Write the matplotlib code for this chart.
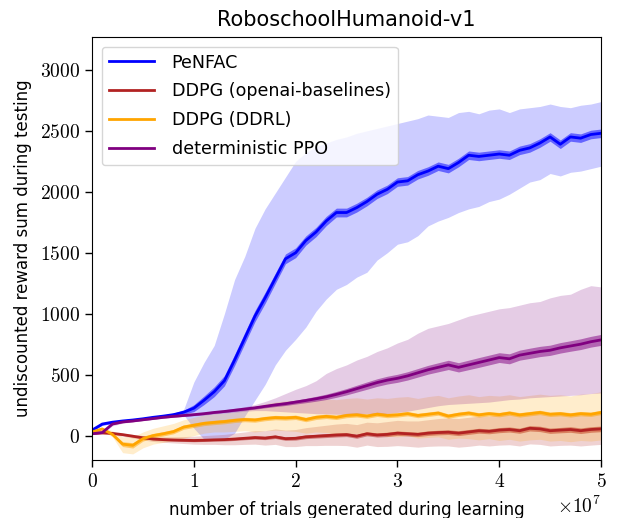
import numpy as np
import matplotlib
matplotlib.use("Agg")
import matplotlib.pyplot as plt
from matplotlib.ticker import FuncFormatter

plt.rcParams['mathtext.fontset'] = 'cm'
plt.rcParams['font.family'] = ['DejaVu Sans']

# x positions in units of 1e7 trials
x_steps = [0.0, 0.1, 0.2, 0.3, 0.4, 0.5, 0.6, 0.7, 0.8, 0.9,
           1.0, 1.1, 1.2, 1.3, 1.4, 1.5, 1.6, 1.7, 1.8, 1.9,
           2.0, 2.1, 2.2, 2.3, 2.4, 2.5, 2.6, 2.7, 2.8, 2.9,
           3.0, 3.1, 3.2, 3.3, 3.4, 3.5, 3.6, 3.7, 3.8, 3.9,
           4.0, 4.1, 4.2, 4.3, 4.4, 4.5, 4.6, 4.7, 4.8, 4.9, 5.0]

series_names = ["PeNFAC", "DDPG (openai-baselines)", "DDPG (DDRL)", "deterministic PPO"]
series_colors = ["blue", "firebrick", "orange", "purple"]

# PeNFAC
penfac_mean = [45, 95, 110, 120, 128, 138, 150, 160, 172, 192,
               225, 290, 360, 450, 620, 800, 980, 1130, 1290, 1450,
               1500, 1600, 1670, 1760, 1830, 1830, 1870, 1920, 1980, 2020,
               2080, 2090, 2140, 2170, 2210, 2190, 2240, 2300, 2290, 2300,
               2310, 2300, 2340, 2360, 2400, 2450, 2390, 2450, 2440, 2470, 2480]
penfac_low = [35, 85, 100, 110, 120, 130, 140, 150, 160, 170,
              60, -30, -35, -30, 20, 160, 290, 420, 580, 700,
              790, 890, 1020, 1120, 1200, 1240, 1300, 1340, 1440, 1500,
              1570, 1590, 1640, 1720, 1760, 1790, 1830, 1860, 1880, 1920,
              1940, 1980, 2030, 2080, 2100, 2150, 2130, 2160, 2170, 2190, 2210]
penfac_high = [55, 105, 120, 130, 138, 148, 160, 170, 185, 215,
               440, 600, 740, 1000, 1280, 1470, 1700, 1860, 1990, 2120,
               2250, 2320, 2370, 2400, 2430, 2450, 2480, 2500, 2520, 2540,
               2560, 2580, 2600, 2630, 2620, 2610, 2650, 2660, 2640, 2670,
               2680, 2650, 2680, 2690, 2700, 2720, 2700, 2690, 2710, 2720, 2740]
penfac_err = [8, 10, 10, 10, 10, 10, 10, 10, 12, 16,
              28, 35, 40, 42, 45, 45, 45, 45, 42, 40,
              40, 38, 38, 38, 36, 36, 36, 35, 35, 35,
              35, 35, 35, 35, 35, 35, 35, 35, 35, 35,
              35, 35, 35, 35, 35, 35, 35, 35, 35, 35, 35]

# DDPG (openai-baselines)
ddpg_base_mean = [20, 22, 18, 8, -5, -18, -28, -33, -36, -38,
                  -40, -38, -35, -33, -28, -22, -16, -20, -10, -25,
                  -22, -10, -5, 0, 5, 8, -5, 15, 5, 10,
                  20, 15, 10, 20, 25, 28, 20, 30, 40, 35,
                  45, 50, 40, 60, 55, 40, 45, 50, 40, 50, 55]
ddpg_base_low = [12, 14, 10, -5, -20, -35, -48, -55, -60, -65,
                 -70, -72, -72, -75, -75, -72, -70, -78, -72, -90,
                 -90, -82, -82, -80, -80, -82, -95, -78, -90, -88,
                 -82, -88, -95, -88, -85, -85, -95, -88, -78, -85,
                 -78, -75, -85, -68, -72, -85, -80, -78, -85, -78, -72]
ddpg_base_high = [28, 30, 28, 20, 10, 0, -8, -10, -10, -8,
                  -5, 0, 5, 10, 20, 30, 40, 40, 55, 45,
                  50, 65, 75, 85, 95, 100, 90, 110, 105, 115,
                  125, 120, 120, 130, 140, 145, 140, 150, 160, 160,
                  170, 175, 165, 185, 180, 170, 175, 180, 170, 180, 185]
ddpg_base_err = [5, 5, 5, 6, 6, 7, 8, 8, 9, 10,
                 10, 10, 10, 11, 12, 12, 13, 13, 14, 14,
                 15, 15, 15, 16, 16, 16, 17, 17, 17, 18,
                 18, 18, 18, 19, 19, 19, 20, 20, 20, 20,
                 21, 21, 21, 22, 22, 22, 22, 23, 23, 23, 23]

# DDPG (DDRL)
ddpg_ddrl_mean = [30, 55, 10, -70, -80, -25, 0, 15, 33, 70,
                  85, 100, 108, 115, 125, 132, 128, 140, 148, 145,
                  150, 132, 150, 158, 150, 165, 170, 160, 175, 165,
                  170, 180, 165, 175, 185, 160, 175, 185, 170, 180,
                  172, 185, 170, 180, 190, 175, 180, 170, 180, 175, 190]
ddpg_ddrl_low = [15, 40, -10, -140, -150, -100, -70, -55, -40, -20,
                 0, 20, 30, 30, 35, 40, 30, 40, 45, 40,
                 35, 20, 30, 25, 10, 20, 15, 0, 10, -5,
                 -10, 0, -20, -15, -10, -30, -20, -25, -35, -25,
                 -40, -30, -45, -35, -30, -45, -40, -50, -40, -45, -35]
ddpg_ddrl_high = [40, 65, 40, -10, -10, 30, 60, 80, 100, 130,
                  150, 170, 180, 185, 195, 210, 240, 260, 275, 285,
                  290, 280, 290, 300, 295, 305, 310, 300, 310, 305,
                  315, 320, 305, 320, 330, 310, 325, 335, 320, 330,
                  325, 335, 320, 330, 340, 330, 335, 325, 340, 345, 360]
ddpg_ddrl_err = [6, 8, 12, 20, 22, 20, 18, 18, 18, 18,
                 18, 18, 18, 18, 18, 18, 18, 18, 18, 18,
                 18, 18, 18, 18, 18, 18, 18, 18, 18, 18,
                 18, 18, 18, 18, 18, 18, 18, 18, 18, 18,
                 18, 18, 18, 18, 18, 18, 18, 18, 18, 18, 18]

# deterministic PPO
ppo_mean = [15, 25, 95, 112, 120, 130, 140, 150, 158, 165,
            172, 180, 190, 198, 208, 218, 228, 240, 252, 262,
            275, 288, 302, 318, 338, 360, 385, 410, 435, 455,
            470, 490, 515, 540, 560, 580, 560, 580, 600, 620,
            640, 630, 660, 675, 690, 700, 720, 735, 750, 770, 785]
ppo_low = [10, 15, 80, 102, 112, 122, 132, 142, 150, 156,
           162, 168, 178, 185, 192, 200, 205, 205, 200, 195,
           190, 185, 180, 178, 175, 175, 178, 180, 180, 182,
           190, 200, 215, 230, 245, 255, 260, 265, 270, 275,
           285, 295, 300, 310, 315, 320, 325, 330, 335, 345, 350]
ppo_high = [20, 30, 100, 118, 128, 138, 148, 158, 166, 174,
            182, 192, 202, 212, 224, 236, 255, 280, 310, 345,
            380, 410, 450, 510, 550, 580, 620, 650, 690, 720,
            760, 790, 840, 880, 900, 920, 950, 980, 1000, 1020,
            1040, 1050, 1070, 1090, 1100, 1130, 1150, 1160, 1200, 1230, 1220]
ppo_err = [4, 5, 6, 6, 6, 6, 6, 6, 7, 7,
           7, 8, 8, 8, 9, 10, 11, 12, 14, 15,
           16, 18, 20, 22, 24, 26, 28, 30, 31, 32,
           33, 34, 35, 36, 37, 38, 38, 39, 40, 40,
           40, 41, 41, 42, 42, 42, 43, 43, 44, 44, 45]

x_tick_values = [0, 1, 2, 3, 4, 5]
y_tick_values = [0, 500, 1000, 1500, 2000, 2500, 3000]

x = np.array(x_steps) * 1e7
series = [
    (penfac_mean, penfac_low, penfac_high, penfac_err),
    (ddpg_base_mean, ddpg_base_low, ddpg_base_high, ddpg_base_err),
    (ddpg_ddrl_mean, ddpg_ddrl_low, ddpg_ddrl_high, ddpg_ddrl_err),
    (ppo_mean, ppo_low, ppo_high, ppo_err),
]

fig = plt.figure(figsize=(6.18, 5.18), dpi=100)
ax = fig.add_axes([0.149, 0.112, 0.8235, 0.8166])

for (m, lo, hi, e), name, c in zip(series, series_names, series_colors):
    m = np.array(m, float)
    e = np.array(e, float)
    ax.fill_between(x, lo, hi, color=c, alpha=0.2, linewidth=0)
    ax.fill_between(x, m - e, m + e, color=c, alpha=0.5, linewidth=0)
    ax.plot(x, m, color=c, linewidth=2, label=name)

ax.set_xlim(0, 5e7)
ax.set_ylim(-200, 3270)
ax.set_xticks([v * 1e7 for v in x_tick_values])
ax.set_yticks(y_tick_values)
ax.xaxis.set_major_formatter(FuncFormatter(lambda v, p: r'$%d$' % round(v / 1e7)))
ax.yaxis.set_major_formatter(FuncFormatter(lambda v, p: r'$%d$' % round(v)))
ax.tick_params(axis='both', labelsize=14, length=5, width=1, direction='out')

ax.set_title("RoboschoolHumanoid-v1", fontsize=15, pad=8)
ax.set_xlabel("number of trials generated during learning", fontsize=12, labelpad=7)
ax.set_ylabel("undiscounted reward sum during testing", fontsize=12, labelpad=6)
ax.text(1.0, -0.085, r'$\times 10^{7}$', transform=ax.transAxes, ha='right', va='top', fontsize=14)

leg = ax.legend(loc='upper left', fontsize=12.6, handlelength=2.6, handletextpad=1.0,
                labelspacing=0.62, borderaxespad=0.55)

fig.savefig("out.png", dpi=100)
